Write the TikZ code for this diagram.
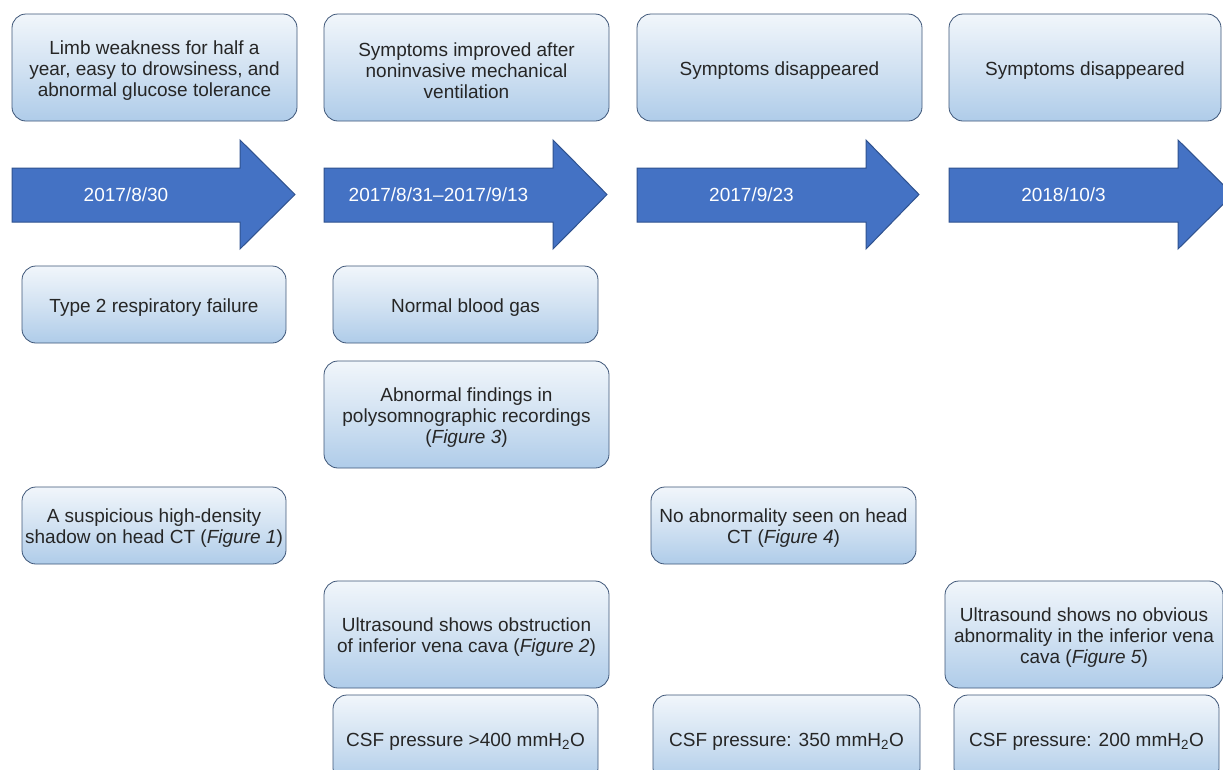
\documentclass[tikz,border=0pt]{standalone}
\usepackage{fontspec}
\setmainfont{Liberation Sans}
\definecolor{arrowfill}{HTML}{4472C4}
\definecolor{arrowline}{HTML}{2F528F}
\definecolor{boxline}{HTML}{3E5678}
\definecolor{boxtop}{HTML}{F1F6FB}
\definecolor{boxmid}{HTML}{D2E2F2}
\definecolor{boxbot}{HTML}{AFCCE9}
\definecolor{txt}{HTML}{262626}
\tikzset{
  evshape/.style={draw=boxline, line width=0.8pt, rounded corners=14pt,
    top color=boxtop, bottom color=boxbot, middle color=boxmid, inner sep=0pt},
  evtext/.style={align=center, text=txt, inner sep=0pt,
    font=\fontsize{19}{21}\selectfont},
  datearrow/.style={fill=arrowfill, draw=arrowline, line width=1pt},
  datelabel/.style={text=white, inner sep=0pt, font=\fontsize{19}{21}\selectfont}
}
% #1 name, #2 centre, #3 width, #4 height, #5 text
\newcommand\evbox[5]{%
  \node[evshape, minimum width=#3, minimum height=#4] (#1) at #2 {};
  \node[evtext] (#1t) at ([yshift=-3pt]#1.center) {#5};}
\begin{document}
\begin{tikzpicture}[x=1pt,y=-1pt]
\useasboundingbox (0,0) rectangle (1223,769);
\clip (0,0) rectangle (1223,769);
\fill[white] (0,0) rectangle (1223,769);

% date arrows
\foreach \xa/\xb/\xt in {12/240/295, 324/553/607, 637/866/919, 949/1178/1233}{
  \draw[datearrow] (\xa,168) -- (\xb,168) -- (\xb,140) -- (\xt,194.5) -- (\xb,249) -- (\xb,222) -- (\xa,222) -- cycle;
}
\node[datelabel] (d1) at (126,195) {2017/8/30};
\node[datelabel] (d2) at (438.5,195) {2017/8/31–2017/9/13};
\node[datelabel] (d3) at (751.5,195) {2017/9/23};
\node[datelabel] (d4) at (1063.5,195) {2018/10/3};

% top row
\evbox{s1}{(154.5,67.5)}{285pt}{107pt}
  {Limb weakness for half a\\year, easy to drowsiness, and\\abnormal glucose tolerance}
\evbox{s2}{(466.5,67.5)}{285pt}{107pt}
  {Symptoms improved after\\noninvasive mechanical\\ventilation}
\evbox{s3}{(779.5,67.5)}{285pt}{107pt}
  {Symptoms disappeared}
\evbox{s4}{(1085,67.5)}{272pt}{107pt}
  {Symptoms disappeared}

% findings
\evbox{f1}{(154,304.5)}{264pt}{77pt}
  {Type 2 respiratory failure}
\evbox{f2}{(465.5,304.5)}{265pt}{77pt}
  {Normal blood gas}
\evbox{f3}{(466.5,414.5)}{285pt}{107pt}
  {Abnormal findings in\\polysomnographic recordings\\(\textit{Figure 3})}
\evbox{f4}{(154,525.5)}{264pt}{77pt}
  {A suspicious high-density\\shadow on head CT (\textit{Figure 1})}
\evbox{f5}{(783.5,525.5)}{265pt}{77pt}
  {No abnormality seen on head\\CT (\textit{Figure 4})}
\evbox{f6}{(466.5,634.5)}{285pt}{107pt}
  {Ultrasound shows obstruction\\of inferior vena cava (\textit{Figure 2})}
\evbox{f7}{(1084,634.5)}{278pt}{107pt}
  {Ultrasound shows no obvious\\abnormality in the inferior vena\\cava (\textit{Figure 5})}

% CSF pressure
\evbox{c1}{(465.5,738.5)}{265pt}{87pt}
  {CSF pressure >400 mmH\textsubscript{2}O}
\evbox{c2}{(786.5,738.5)}{267pt}{87pt}
  {CSF pressure: 350 mmH\textsubscript{2}O}
\evbox{c3}{(1086.5,738.5)}{265pt}{87pt}
  {CSF pressure: 200 mmH\textsubscript{2}O}
\end{tikzpicture}
\end{document}
